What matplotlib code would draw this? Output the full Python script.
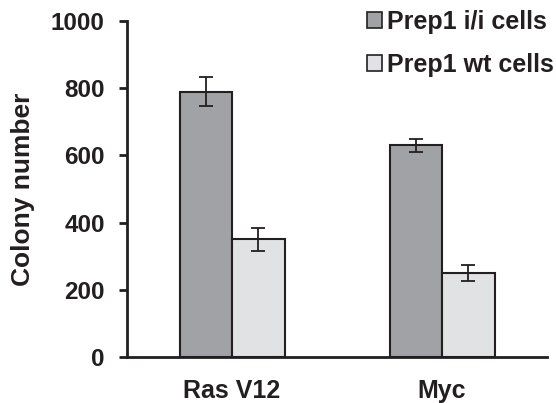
import matplotlib
matplotlib.use("Agg")
import matplotlib.pyplot as plt
import numpy as np
from matplotlib.patches import Patch

plt.rcParams["font.family"] = ["Liberation Sans", "DejaVu Sans"]
plt.rcParams["font.weight"] = "bold"

# data
groups = ["Ras V12", "Myc"]
series = ["Prep1 i/i cells", "Prep1 wt cells"]
ii_values = [790, 630]
ii_errors = [42, 20]
wt_values = [350, 250]
wt_errors = [35, 25]
yticks = [0, 200, 400, 600, 800, 1000]

colors = ["#a1a2a6", "#e1e2e4"]
edge = "#231f20"

fig = plt.figure(figsize=(5.56, 4.03), dpi=100)
ax = fig.add_axes([127 / 556, 46 / 403, 420 / 556, 336 / 403])

x = np.arange(len(groups))
w = 0.25
err_kw = dict(ecolor=edge, elinewidth=1.3, capthick=1.3, capsize=5)
ax.bar(x - w / 2, ii_values, w, yerr=ii_errors, color=colors[0],
       edgecolor=edge, linewidth=1.5, error_kw=err_kw, label=series[0])
ax.bar(x + w / 2, wt_values, w, yerr=wt_errors, color=colors[1],
       edgecolor=edge, linewidth=1.5, error_kw=err_kw, label=series[1])

ax.set_xlim(-0.5, 1.5)
ax.set_ylim(0, 1000)
ax.set_yticks(yticks)
ax.set_xticks(x)
ax.set_xticklabels(groups)
ax.spines["top"].set_visible(False)
ax.spines["right"].set_visible(False)
for s in ["left", "bottom"]:
    ax.spines[s].set_linewidth(2)
    ax.spines[s].set_color(edge)
ax.tick_params(axis="y", length=6, width=2, color=edge, pad=10, labelsize=17.5,
               labelcolor=edge)
ax.tick_params(axis="x", length=0, pad=16, labelsize=18, labelcolor=edge)
ax.set_ylabel("Colony number", fontsize=19, color=edge, fontweight="bold")
ax.yaxis.set_label_coords(-0.219, 0.5)

handles = [Patch(facecolor=c, edgecolor=edge, linewidth=1.2) for c in colors]
fig.legend(handles, series, loc="upper left", bbox_to_anchor=(367 / 556, 1 - 10 / 403),
           frameon=False, fontsize=18, handlelength=0.6, handleheight=0.6,
           handletextpad=0.2, labelspacing=0.75, borderpad=0, borderaxespad=0,
           labelcolor=edge)

fig.savefig("out.png", dpi=100)
